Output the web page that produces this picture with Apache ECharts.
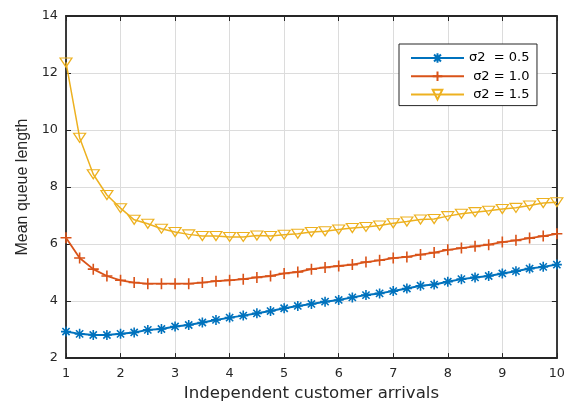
<!DOCTYPE html>
<html><head><meta charset="utf-8">
<script src="https://cdn.jsdelivr.net/npm/echarts@6/dist/echarts.min.js"></script>
<style>html,body{margin:0;padding:0;background:#fff}#c{width:568px;height:407px}</style>
</head><body><div id="c"></div>
<script>
const xValues = [1,1.25,1.5,1.75,2,2.25,2.5,2.75,3,3.25,3.5,3.75,4,4.25,4.5,4.75,5,5.25,5.5,5.75,6,6.25,6.5,6.75,7,7.25,7.5,7.75,8,8.25,8.5,8.75,9,9.25,9.5,9.75,10];
const s05 = [2.93,2.85,2.81,2.81,2.85,2.9,2.99,3.02,3.11,3.16,3.25,3.34,3.42,3.49,3.57,3.65,3.75,3.83,3.9,3.98,4.04,4.13,4.21,4.27,4.35,4.44,4.54,4.58,4.68,4.77,4.83,4.88,4.97,5.05,5.14,5.2,5.28];
const s10 = [6.22,5.51,5.12,4.88,4.73,4.65,4.61,4.61,4.61,4.61,4.65,4.7,4.73,4.77,4.83,4.88,4.97,5.02,5.12,5.18,5.23,5.28,5.37,5.43,5.51,5.55,5.63,5.7,5.8,5.86,5.92,5.98,6.07,6.13,6.21,6.28,6.36];
const s15 = [12.37,9.73,8.45,7.72,7.26,6.85,6.71,6.54,6.42,6.34,6.28,6.28,6.25,6.25,6.3,6.28,6.33,6.36,6.42,6.45,6.51,6.56,6.6,6.65,6.73,6.79,6.86,6.88,6.98,7.06,7.12,7.17,7.23,7.27,7.35,7.44,7.47];
const seriesNames = ['σ2  = 0.5', ' σ2 = 1.0', ' σ2 = 1.5'];
const xTicks = [1,2,3,4,5,6,7,8,9,10];
const yTicks = [2,4,6,8,10,12,14];

const colors = ['#0072BD', '#D95319', '#EDB120'];
const symbols = [
  'path://M0,-5L0,5M-5,0L5,0M-3.6,-3.6L3.6,3.6M-3.6,3.6L3.6,-3.6',
  'path://M0,-5L0,5M-5,0L5,0',
  'path://M-6,-4.5L6,-4.5L0,4.5Z'
];
const sizes = [10, 11, [12, 9]];
const widths = [2, 1.8, 1.5];
const all = [s05, s10, s15];

const axisColor = '#262626';
const fontH = 'DejaVu Sans, sans-serif';
const fontV = 'Liberation Sans, Arial, sans-serif';

const chart = echarts.init(document.getElementById('c'));
chart.setOption({
  animation: false,
  backgroundColor: '#fff',
  grid: {left: 66, right: 11, top: 16, bottom: 47},
  legend: {
    orient: 'vertical', left: 399, top: 44,
    padding: [6, 7.5, 3, 11],
    itemWidth: 53, itemHeight: 12, itemGap: 2.3,
    borderColor: axisColor, borderWidth: 1, backgroundColor: '#fff',
    textStyle: {fontFamily: fontH, fontSize: 13, lineHeight: 16, color: '#000'},
    data: seriesNames
  },
  xAxis: [{
    type: 'value', min: 1, max: 10, interval: 1,
    name: 'Independent customer arrivals', nameLocation: 'middle', nameGap: 22,
    nameTextStyle: {fontFamily: fontH, fontSize: 16.6, color: axisColor},
    axisLine: {onZero: false, lineStyle: {color: axisColor, width: 1.8}},
    axisTick: {inside: true, length: 5, lineStyle: {color: axisColor}},
    axisLabel: {fontFamily: fontH, fontSize: 12.8, color: axisColor, margin: 9,
      formatter: v => xTicks.includes(v) ? String(v) : ''},
    splitLine: {show: true, lineStyle: {color: '#dcdcdc', width: 1}}
  }, {
    type: 'value', min: 1, max: 10, interval: 1, position: 'top',
    axisLine: {onZero: false, lineStyle: {color: axisColor, width: 1.8}},
    axisTick: {inside: true, length: 5, lineStyle: {color: axisColor}},
    axisLabel: {show: false}, splitLine: {show: false}
  }],
  yAxis: [{
    type: 'value', min: 2, max: 14, interval: 2,
    name: 'Mean queue length', nameLocation: 'middle', nameGap: 25,
    nameTextStyle: {fontFamily: fontV, fontSize: 16, color: axisColor},
    axisLine: {show: true, onZero: false, lineStyle: {color: axisColor, width: 1.8}},
    axisTick: {show: true, inside: true, length: 5, lineStyle: {color: axisColor}},
    axisLabel: {fontFamily: fontH, fontSize: 12.8, color: axisColor, margin: 8,
      formatter: v => yTicks.includes(v) ? String(v) : ''},
    splitLine: {show: true, lineStyle: {color: '#dcdcdc', width: 1}}
  }, {
    type: 'value', min: 2, max: 14, interval: 2, position: 'right',
    axisLine: {show: true, onZero: false, lineStyle: {color: axisColor, width: 1.8}},
    axisTick: {show: true, inside: true, length: 5, lineStyle: {color: axisColor}},
    axisLabel: {show: false}, splitLine: {show: false}
  }],
  series: all.map((arr, i) => ({
    name: seriesNames[i], type: 'line',
    data: xValues.map((x, j) => [x, arr[j]]),
    symbol: symbols[i], symbolSize: sizes[i],
    showAllSymbol: true,
    lineStyle: {color: colors[i], width: widths[i]},
    itemStyle: {color: 'none', borderColor: colors[i], borderWidth: i === 2 ? 1.2 : 1.6},
    emphasis: {disabled: true},
    z: 3 - i
  }))
});
</script></body></html>
